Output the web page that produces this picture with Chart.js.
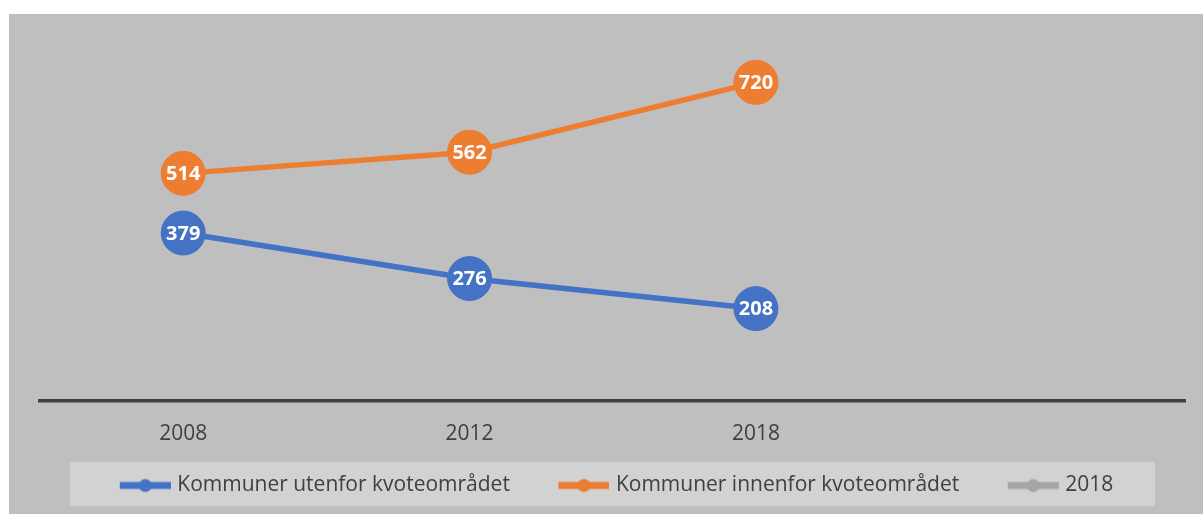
<!DOCTYPE html>
<html>
<head>
<meta charset="utf-8">
<script src="https://cdn.jsdelivr.net/npm/chart.js@4/dist/chart.umd.min.js"></script>
<style>
html,body{margin:0;padding:0;background:#ffffff;}
#wrap{width:1203px;height:514px;}
</style>
</head>
<body>
<div id="wrap"><canvas id="c" width="1203" height="514"></canvas></div>
<script>
const categories = ['2008', '2012', '2018', ''];
const utenfor = [379, 276, 208, null];
const innenfor = [514, 562, 720, null];
const serie2018 = [null, null, null, null];
const seriesNames = ['Kommuner utenfor kvoteområdet', 'Kommuner innenfor kvoteområdet', '2018'];
const yMin = 0;
const yMax = 800;

const colors = ['#4472C4', '#ED7D31', '#A5A5A5'];
const FONT = '"Open Sans", "Liberation Sans", sans-serif';

function legendIcon(color) {
  const c = document.createElement('canvas');
  c.width = 85; c.height = 16;
  const ctx = c.getContext('2d');
  ctx.strokeStyle = color;
  ctx.lineWidth = 7;
  ctx.beginPath();
  ctx.moveTo(34, 8); ctx.lineTo(85, 8);
  ctx.stroke();
  ctx.fillStyle = color;
  ctx.beginPath();
  ctx.arc(59.5, 8, 6.5, 0, Math.PI * 2);
  ctx.fill();
  return c;
}
const icons = colors.map(legendIcon);

const bgPlugin = {
  id: 'bg',
  afterLayout(chart) {
    const lg = chart.legend;
    const dx = (lg.left + lg.right) / 2 - 601.5;
    lg.left -= dx; lg.right -= dx;
  },
  beforeDraw(chart) {
    const ctx = chart.ctx;
    ctx.save();
    ctx.fillStyle = '#bfbfbf';
    ctx.fillRect(9, 14, chart.width - 9, chart.height - 14);
    ctx.fillStyle = '#d2d2d2';
    ctx.fillRect(70, 462, 1085, 44);
    ctx.restore();
  }
};

const labelPlugin = {
  id: 'dlabels',
  afterDatasetsDraw(chart) {
    const ctx = chart.ctx;
    ctx.save();
    ctx.font = 'bold 20px ' + FONT;
    ctx.fillStyle = '#ffffff';
    ctx.textAlign = 'center';
    ctx.textBaseline = 'middle';
    chart.data.datasets.forEach((ds, i) => {
      const meta = chart.getDatasetMeta(i);
      meta.data.forEach((pt, j) => {
        const v = ds.data[j];
        if (v === null || v === undefined) return;
        ctx.fillText(String(v), pt.x, pt.y + 1);
      });
    });
    ctx.restore();
  }
};

const dataSeries = [utenfor, innenfor, serie2018];
new Chart(document.getElementById('c'), {
  type: 'line',
  data: {
    labels: categories,
    datasets: dataSeries.map((d, i) => ({
      label: seriesNames[i],
      data: d,
      borderColor: colors[i],
      backgroundColor: colors[i],
      pointBackgroundColor: colors[i],
      pointBorderColor: colors[i],
      borderWidth: 5.5,
      pointRadius: 22,
      pointBorderWidth: 1,
      pointHoverRadius: 22,
      tension: 0,
      clip: false,
      spanGaps: false
    }))
  },
  options: {
    responsive: false,
    animation: false,
    events: [],
    layout: { autoPadding: false, padding: { left: 40, right: 17.5, top: 47, bottom: 8 } },
    scales: {
      x: {
        offset: true,
        grid: { display: false, drawTicks: false },
        border: { display: true, color: '#404040', width: 3.5 },
        ticks: { color: '#404040', font: { family: FONT, size: 21 }, padding: 21, maxRotation: 0 },
        afterFit(scale) { scale.height = 56; }
      },
      y: {
        display: false,
        min: yMin,
        max: yMax
      }
    },
    plugins: {
      tooltip: { enabled: false },
      legend: {
        position: 'bottom',
        labels: {
          color: '#404040',
          font: { family: FONT, size: 21 },
          padding: 18.5,
          usePointStyle: true,
          pointStyleWidth: 77,
          boxHeight: 21,
          generateLabels(chart) {
            const items = Chart.defaults.plugins.legend.labels.generateLabels(chart);
            items.forEach((it, i) => { it.pointStyle = icons[i]; });
            return items;
          }
        }
      }
    }
  },
  plugins: [bgPlugin, labelPlugin]
});
</script>
</body>
</html>
